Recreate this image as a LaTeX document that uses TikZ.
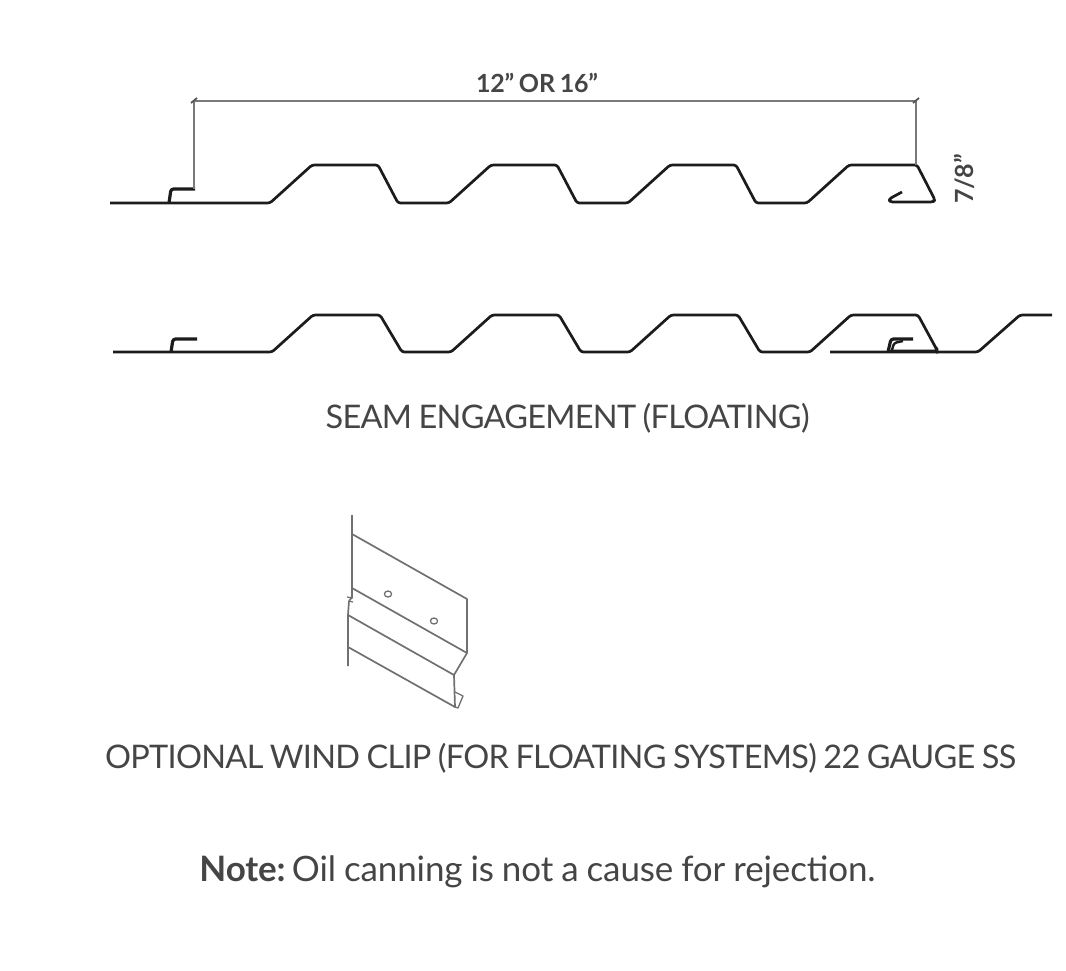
\documentclass[tikz,border=0pt]{standalone}
\usepackage{fontspec}
\setmainfont{Lato}
\newfontfamily\capfont[LetterSpace=-2.2,WordSpace=0.85,BoldFont={Lato Bold}]{Lato}
\newfontfamily\notefont[LetterSpace=-0.35,WordSpace=0.9,BoldFont={Lato Bold}]{Lato}
\newfontfamily\dimfont[LetterSpace=-0.8,WordSpace=0.8]{Lato Bold}
\definecolor{txt}{HTML}{454545}
\definecolor{dimc}{HTML}{7A7A7A}
\definecolor{clipc}{HTML}{707070}
\definecolor{panel}{HTML}{1C1C1C}
\tikzset{
  panelline/.style={draw=panel,line width=2.7pt,rounded corners=2.5pt,line join=round},
  dimline/.style={draw=dimc,line width=2pt},
  tickmark/.style={draw=dimc!70!black,line width=1.8pt},
  clipline/.style={draw=clipc,line width=1.7pt,line join=round},
  caption/.style={inner sep=0pt,text=txt,font=\capfont\fontsize{32.5}{38}\selectfont},
  dimtext/.style={inner sep=0pt,text=txt,font=\dimfont\fontsize{25}{30}\selectfont}
}
\begin{document}
\begin{tikzpicture}[x=1pt,y=-1pt]
\useasboundingbox (0,0) rectangle (1066,970);
% top panel
\draw[panelline] (110,203) -- (270,203) -- (312,165) -- (378,165) -- (398,203) -- (449,203)
  -- (491,165) -- (557,165) -- (577,203) -- (628,203) -- (670,165) -- (736,165) -- (756,203)
  -- (807,203) -- (849,165) -- (917,165) -- (935,200) -- (933,202) -- (890,202) -- (889,199) -- (902,192);
\draw[panelline,line width=3.2pt] (169,203) -- (171,189) -- (195,189);
% dimension
\coordinate (dl) at (194,101);
\coordinate (dr) at (916,101);
\draw[dimline] (dl) -- (dr);
\draw[dimline,line width=1.5pt] (dl) -- (194,189);
\draw[dimline,line width=1.5pt] (dr) -- (916,165);
\draw[tickmark] (191,103) -- (197,98);
\draw[tickmark] (913,103) -- (919,98);
% lower panels
\draw[panelline] (113,352) -- (272,352) -- (313,315) -- (380,315) -- (402,352) -- (451,352)
  -- (492,315) -- (559,315) -- (581,352) -- (630,352) -- (671,315) -- (738,315) -- (760,352)
  -- (810,352) -- (851,315) -- (918,315) -- (937,350) -- (937,351) -- (890,351);
\draw[panelline] (830,352) -- (978,352) -- (1020,315) -- (1052,315);
\draw[panelline,line width=3.2pt] (171,352) -- (173,339) -- (197,339);
\draw[panelline,line width=3.2pt] (888,352) -- (891,339) -- (913,339);
\draw[panelline,line width=2.4pt] (892,350) -- (894,343) -- (903,341);
% wind clip
\draw[clipline] (352,515) -- (352,588) -- (352,597) -- (349,601);
\draw[clipline,line width=1.2pt] (347,597) -- (353,598) (349,601) -- (353,602);
\draw[clipline] (349,601) -- (348,615) -- (348,666);
\draw[clipline] (352,534) -- (467,599) -- (467,653) -- (352,588);
\draw[clipline] (467,653) -- (454,675) -- (348,615);
\draw[clipline] (454,675) -- (455,707) -- (348,647);
\draw[clipline,line width=1.3pt] (455,692) -- (463,696) -- (458,708) -- (455,707);
\draw[clipline,line width=1.3pt] (388,594) ellipse (3.6 and 3);
\draw[clipline,line width=1.3pt] (434,621) ellipse (3.6 and 3);
% text
\node[dimtext] (width) at (537,83) {12” OR 16”};
\node[dimtext,rotate=90] (height) at (964,179) {7/8”};
\node[caption] (seam) at (567.5,418) {SEAM ENGAGEMENT (FLOATING)};
\node[caption] (clip) at (560.5,758) {OPTIONAL WIND CLIP (FOR FLOATING SYSTEMS) 22 GAUGE SS};
\node[caption,font=\notefont\fontsize{35}{40}\selectfont] (note) at (537.5,872) {\textbf{Note:}\hspace{-4.5pt} Oil canning is not a cause for rejection.};
\end{tikzpicture}
\end{document}
